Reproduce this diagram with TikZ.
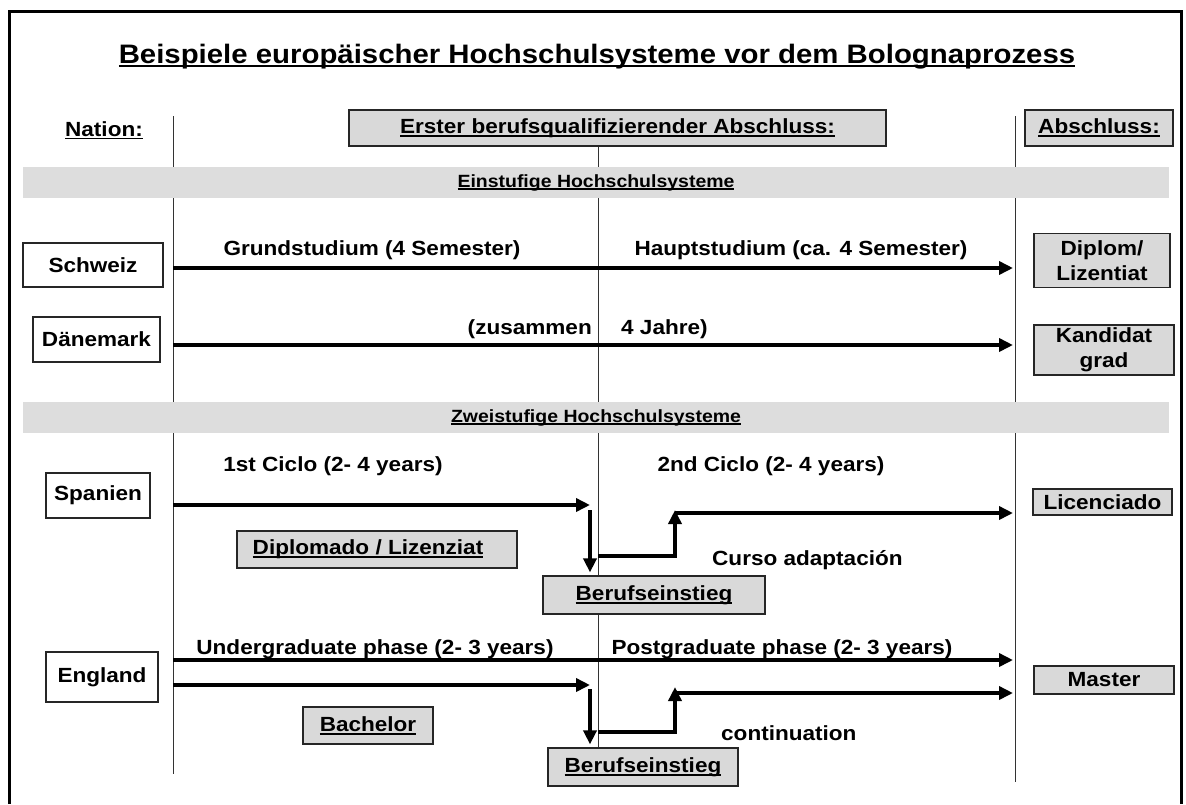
\documentclass[tikz,border=0pt]{standalone}
\usepackage{fontspec}
\setmainfont{Liberation Sans}[FakeStretch=1.1]
\usepackage{tikz}
\usetikzlibrary{calc}
\usetikzlibrary{positioning}
\usetikzlibrary{arrows.meta}
\definecolor{boxGray}{RGB}{217,217,217}
\definecolor{bandGray}{RGB}{221,221,221}
\newsavebox{\ulsave}
\newcommand{\ulbox}[1]{\sbox{\ulsave}{#1}\rlap{\usebox{\ulsave}}\rule[-0.16em]{\wd\ulsave}{0.08em}}
\tikzstyle{bodytext} = [font=\fontsize{20.5pt}{25pt}\selectfont\bfseries, inner sep=0pt]
\tikzstyle{bandtext} = [font=\fontsize{17.7pt}{20pt}\selectfont\bfseries, inner sep=0pt]
\tikzstyle{landbox} = [bodytext, draw=black!85, line width=1.2pt, fill=white]
\tikzstyle{gradbox} = [bodytext, draw=black!85, line width=1.2pt, fill=boxGray, align=center]
\tikzstyle{band} = [bandtext, fill=bandGray, minimum width=1146pt, minimum height=31pt]
\tikzstyle{divider} = [line width=1pt, black!80]
\tikzstyle{phase} = [line width=3.8pt, -{Triangle[length=14pt,width=13pt]}]

\begin{document}
\begin{tikzpicture}[x=1pt, y=-1pt]
    \useasboundingbox (0,0) rectangle (1186,804);
    \draw[line width=3pt] (9,804) -- (9,11) -- (1181,11) -- (1181,804);

    % column dividers
    \coordinate (left_top) at (173,116);
    \coordinate (left_bot) at (173,774);
    \coordinate (mid_top) at (598,146);
    \coordinate (mid_bot) at (598,774);
    \coordinate (right_top) at (1015,116);
    \coordinate (right_bot) at (1015,782);
    \draw[divider] (left_top) -- (left_bot);
    \draw[divider] (mid_top) -- (mid_bot);
    \draw[divider] (right_top) -- (right_bot);

    % heading
    \node[font=\fontsize{26.7pt}{30pt}\selectfont\bfseries, anchor=base] (title) at (597,63)
{\ulbox{Beispiele europäischer Hochschulsysteme vor dem Bolognaprozess}};
    \node[bodytext, anchor=base] (nation_head) at (104,136) {\ulbox{Nation:}};
    \node[gradbox, minimum width=537pt, minimum height=36pt] (erster_head) at (617.5,128)
{\ulbox{Erster berufsqualifizierender Abschluss:}};
    \node[gradbox, minimum width=148pt, minimum height=36pt] (abschluss_head) at (1099,128)
{\ulbox{Abschluss:}};

    % one-tier systems
    \node[band] (ein_band) at (596,182.5) {\ulbox{Einstufige Hochschulsysteme}};
    \node[landbox, minimum width=140pt, minimum height=44pt] (schweiz) at (93,265) {Schweiz};
    \node[landbox, minimum width=127pt, minimum height=45pt] (daenemark) at (96.5,339.5) {Dänemark};
    \node[gradbox, minimum width=136pt, minimum height=54pt] (diplom) at (1102,260.5) {Diplom/\\Lizentiat};
    \node[gradbox, minimum width=140pt, minimum height=50pt] (kandidat) at (1104,350) {Kandidat\\grad};
    \node[bodytext, anchor=base] (grund_txt) at (372,255) {Grundstudium (4 Semester)};
    \node[bodytext, anchor=base] (haupt_txt) at (801,255) {Hauptstudium (ca. 4 Semester)};
    \node[bodytext, anchor=base east] (zus_txt) at (592,334) {(zusammen};
    \node[bodytext, anchor=base west] (jahre_txt) at (621,334) {4 Jahre)};
    \coordinate (ch_from) at (173,268);
    \coordinate (ch_to) at (1013,268);
    \draw[phase] (ch_from) -- (ch_to);
    \coordinate (dk_from) at (173,345);
    \coordinate (dk_to) at (1013,345);
    \draw[phase] (dk_from) -- (dk_to);

    % two-tier systems
    \node[band] (zwei_band) at (596,417.5) {\ulbox{Zweistufige Hochschulsysteme}};
    \node[landbox, minimum width=104pt, minimum height=45pt] (spanien) at (98,495.5) {Spanien};
    \node[gradbox, minimum width=139pt, minimum height=26pt] (licenciado) at (1102.5,502) {Licenciado};
    \node[gradbox, minimum width=280pt, minimum height=37pt] (diplomado) at (377,549.5)
{\ulbox{Diplomado / Lizenziat}\hspace{18pt}};
    \node[gradbox, minimum width=222pt, minimum height=38pt] (beruf_es) at (654,595) {\ulbox{Berufseinstieg}};
    \node[bodytext, anchor=base] (ciclo1_txt) at (333,471) {1st Ciclo (2- 4 years)};
    \node[bodytext, anchor=base] (ciclo2_txt) at (771,471) {2nd Ciclo (2- 4 years)};
    \node[bodytext, anchor=base west] (curso_txt) at (712,565) {Curso adaptación};
    \coordinate (es_from) at (173,505);
    \coordinate (es_to) at (590,505);
    \coordinate (es_drop) at (590,510);
    \coordinate (es_turn) at (598,556);
    \coordinate (es_rise) at (675,510);
    \coordinate (es_cont) at (675,513);
    \coordinate (es_end) at (1013,513);
    \draw[phase] (es_from) -- (es_to);
    \draw[phase] (es_drop) -- ($(beruf_es.north -| es_drop)+(0,-3)$);
    \draw[phase] (es_turn) -| (es_rise);
    \draw[phase] (es_cont) -- (es_end);

    \node[landbox, minimum width=112pt, minimum height=50pt] (england) at (102,677) {England};
    \node[gradbox, minimum width=140pt, minimum height=28pt] (master) at (1104,680) {Master};
    \node[gradbox, minimum width=130pt, minimum height=37pt] (bachelor) at (368,725.5) {\ulbox{Bachelor}};
    \node[gradbox, minimum width=190pt, minimum height=38pt] (beruf_en) at (643,767) {\ulbox{Berufseinstieg}};
    \node[bodytext, anchor=base] (under_txt) at (375,654) {Undergraduate phase (2- 3 years)};
    \node[bodytext, anchor=base] (post_txt) at (782,654) {Postgraduate phase (2- 3 years)};
    \node[bodytext, anchor=base west] (cont_txt) at (721,740) {continuation};
    \coordinate (en_from) at (173,660);
    \coordinate (en_to) at (1013,660);
    \coordinate (en_low) at (173,685);
    \coordinate (en_mid) at (590,685);
    \coordinate (en_drop) at (590,689);
    \coordinate (en_turn) at (598,732);
    \coordinate (en_rise) at (675,687);
    \coordinate (en_cont) at (675,693);
    \coordinate (en_end) at (1013,693);
    \draw[phase] (en_from) -- (en_to);
    \draw[phase] (en_low) -- (en_mid);
    \draw[phase] (en_drop) -- ($(beruf_en.north -| en_drop)+(0,-3)$);
    \draw[phase] (en_turn) -| (en_rise);
    \draw[phase] (en_cont) -- (en_end);
\end{tikzpicture}
\end{document}
